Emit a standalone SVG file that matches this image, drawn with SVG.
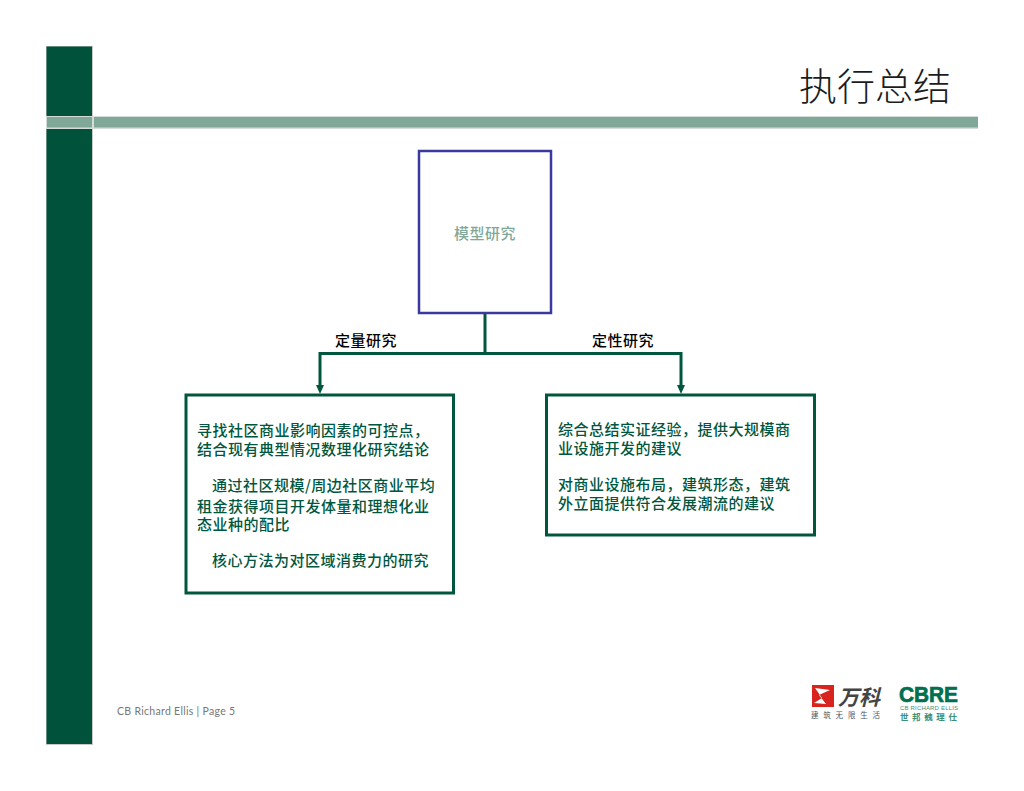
<svg xmlns="http://www.w3.org/2000/svg" width="1024" height="791" viewBox="0 0 1024 791">
<style>
text{font-family:"Noto Sans CJK SC","Liberation Sans",sans-serif}
.box{fill:#fff;stroke:#00573d;stroke-width:3}
.t{font-size:15px;letter-spacing:.5px;font-weight:500;fill:#00573d}
.l{font-size:15px;letter-spacing:.5px;font-weight:500;fill:#000}
.c{fill:none;stroke:#00573d;stroke-width:3}
</style>
<rect width="1024" height="791" fill="#fff"/>
<g id="frame">
<rect x="46" y="46" width="47" height="699" fill="#c8c8c8"/>
<rect x="46.500" y="46.500" width="45.500" height="69.500" fill="#00533a"/>
<rect x="46.500" y="129" width="45.500" height="615" fill="#00533a"/>
<rect x="46" y="116" width="932" height="13" fill="#d4dcd8"/>
<rect x="47" y="117" width="45" height="10.500" fill="#80a898"/>
<rect x="94" y="117" width="884" height="10.500" fill="#80a898"/>
</g>
<text id="title" x="951" y="100" text-anchor="end" font-size="38" font-weight="300" fill="#1c1c1c">执行总结</text>
<g id="connectors">
<path class="c" d="M485 313V353.500"/>
<path class="c" d="M320 388V353.500H681V388"/>
<path d="M316 385H324L320 394Z M677 385H685L681 394Z" fill="#00573d"/>
</g>
<g id="node-model">
<rect x="419" y="151" width="132" height="162" fill="#fff" stroke="#3a3a9e" stroke-width="2.500"/>
<text x="485" y="239" text-anchor="middle" font-size="15" letter-spacing=".5" font-weight="500" fill="#80a898">模型研究</text>
</g>
<text id="label-quant" class="l" x="366" y="346" text-anchor="middle">定量研究</text>
<text id="label-qual" class="l" x="623" y="346" text-anchor="middle">定性研究</text>
<g id="node-left">
<rect class="box" x="186" y="395" width="267.500" height="198"/>
<text class="t"><tspan x="197" y="435.500">寻找社区商业影响因素的可控点，</tspan><tspan x="197" y="454.500">结合现有典型情况数理化研究结论</tspan><tspan x="212" y="491">通过社区规模/周边社区商业平均</tspan><tspan x="197" y="511.500">租金获得项目开发体量和理想化业</tspan><tspan x="197" y="529.500">态业种的配比</tspan><tspan x="212" y="566">核心方法为对区域消费力的研究</tspan></text>
</g>
<g id="node-right">
<rect class="box" x="546.500" y="395" width="268" height="140"/>
<text class="t"><tspan x="558" y="434.500">综合总结实证经验，提供大规模商</tspan><tspan x="558" y="453.500">业设施开发的建议</tspan><tspan x="558" y="490">对商业设施布局，建筑形态，建筑</tspan><tspan x="558" y="509">外立面提供符合发展潮流的建议</tspan></text>
</g>
<text id="footer" x="117" y="715" font-size="10.500" letter-spacing=".3" fill="#777" style="font-family:Lato,sans-serif">CB Richard Ellis | Page 5</text>
<g id="logo-vanke">
<rect x="812" y="685" width="22" height="22" fill="#d8231f"/>
<path d="M815 688L830 690L819 695L826 704L814 703L822 698Z" fill="#fff"/>
<text x="838" y="705" font-size="21" font-weight="700" font-style="italic" fill="#444">万科</text>
<text x="811" y="718" font-size="7.500" letter-spacing="4.800" fill="#555">建筑无限生活</text>
</g>
<g id="logo-cbre">
<text x="899" y="702" font-size="22" font-weight="700" fill="#00704f" stroke="#00704f" stroke-width=".7" textLength="59" lengthAdjust="spacingAndGlyphs" style="font-family:'Liberation Sans',sans-serif">CBRE</text>
<text x="900" y="709.500" font-size="6" fill="#3f9077" style="font-family:'Liberation Sans',sans-serif" textLength="58">CB RICHARD ELLIS</text>
<text x="900" y="720" font-size="8.500" letter-spacing="3.600" font-weight="700" fill="#3f9077">世邦魏理仕</text>
</g>
</svg>
